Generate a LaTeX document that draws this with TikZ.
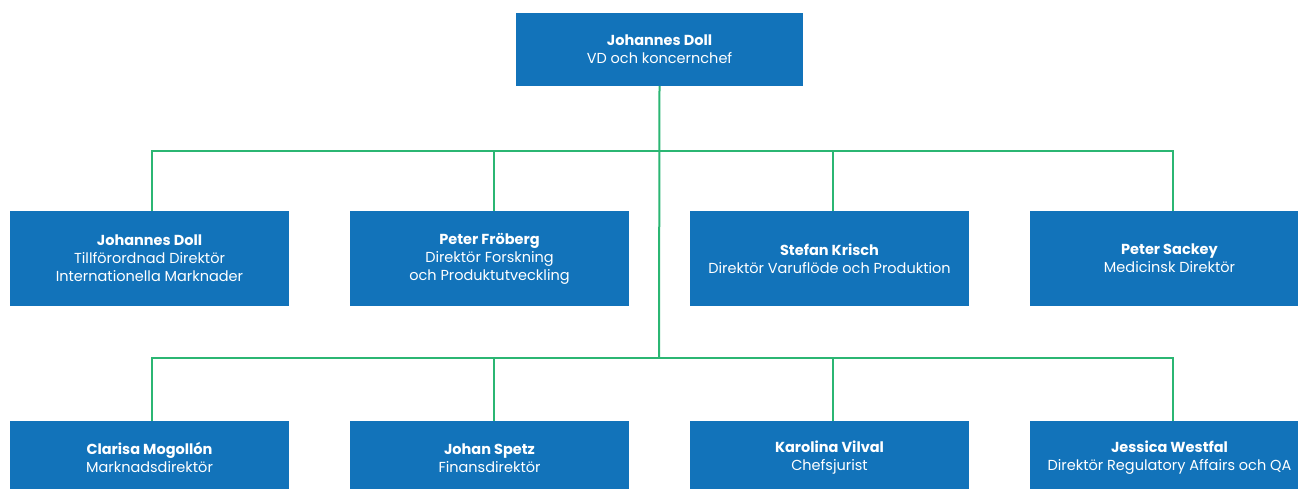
\documentclass[tikz,border=0pt]{standalone}
\usepackage{fontspec}
\setmainfont{Poppins}
\definecolor{boxblue}{HTML}{1273BA}
\definecolor{linegreen}{HTML}{2BB673}
\begin{document}
\begin{tikzpicture}[x=1pt,y=-1pt,
  box/.style={fill=boxblue, draw=none, text=white, align=center, minimum width=279pt, inner sep=0pt, font=\fontsize{14.5}{18}\selectfont},
  conn/.style={draw=linegreen, line width=2pt}]
\useasboundingbox (0,0) rectangle (1298,488);
\clip (0,0) rectangle (1298,488);
% top
\node[box, minimum width=287pt, minimum height=73pt] (ceo) at (659.5,49.5) {\textbf{Johannes Doll}\\VD och koncernchef};
% row 1
\node[box, minimum height=95pt] (a1) at (149.5,258.5) {\textbf{Johannes Doll}\\Tillförordnad Direktör\\Internationella Marknader};
\node[box, minimum height=95pt] (a2) at (489.5,258.5) {\textbf{Peter Fröberg}\\Direktör Forskning\\och Produktutveckling};
\node[box, minimum height=95pt] (a3) at (829.5,258.5) {\textbf{Stefan Krisch}\\Direktör Varuflöde och Produktion};
\node[box, minimum height=95pt] (a4) at (1169.5,258.5) {\textbf{Peter Sackey}\\Medicinsk Direktör};
% row 2
\node[box, minimum height=74pt] (b1) at (149.5,458) {\textbf{Clarisa Mogollón}\\Marknadsdirektör};
\node[box, minimum height=74pt] (b2) at (489.5,458) {\textbf{Johan Spetz}\\Finansdirektör};
\node[box, minimum height=74pt] (b3) at (829.5,458) {\textbf{Karolina Vilval}\\Chefsjurist};
\node[box, minimum height=74pt] (b4) at (1169.5,458) {\textbf{Jessica Westfal}\\Direktör Regulatory Affairs och QA};
% connectors
\coordinate (j1) at (659,151);
\coordinate (j2) at (659,358);
\draw[conn] (ceo.south) -- (j2);
\draw[conn] (a1.north -| 152,0) |- (j1) -| (a4.north -| 1173,0);
\draw[conn] (a2.north -| 494,0) -- (494,151);
\draw[conn] (a3.north -| 833,0) -- (833,151);
\draw[conn] (b1.north -| 152,0) |- (j2) -| (b4.north -| 1173,0);
\draw[conn] (b2.north -| 494,0) -- (494,358);
\draw[conn] (b3.north -| 833,0) -- (833,358);
\end{tikzpicture}
\end{document}
